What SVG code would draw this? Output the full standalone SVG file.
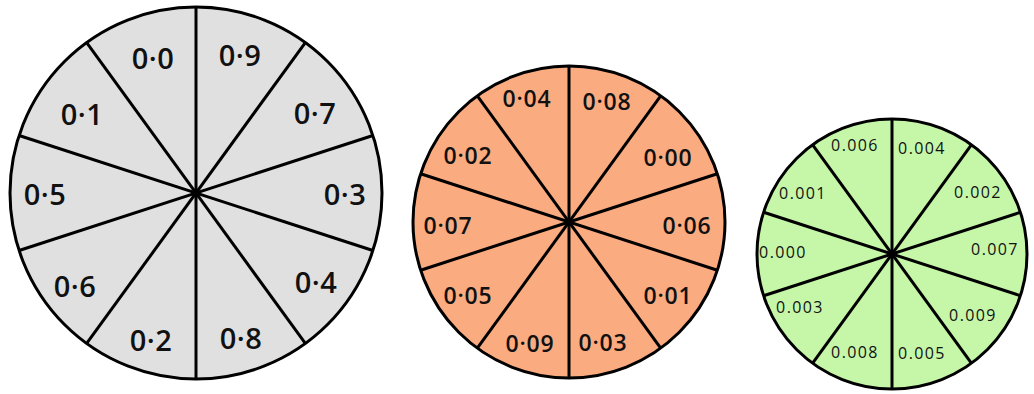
<svg xmlns="http://www.w3.org/2000/svg" width="1034" height="394" viewBox="0 0 1034 394">
<style>
.rim{stroke:#000;stroke-width:3}
.div{stroke:#000;stroke-width:3;stroke-linecap:butt}
text{font-family:"Open Sans","Liberation Sans",sans-serif;fill:#111;text-anchor:middle;dominant-baseline:central}
.t1{font-size:29px;font-weight:600;letter-spacing:0.5px}
.t2{font-size:23px;font-weight:600;letter-spacing:0.8px}
.t3{font-size:16px;font-weight:400;letter-spacing:1.4px}
</style>
<rect width="1034" height="394" fill="#fff"/>
<g id="spinner1">
<circle class="rim" cx="196" cy="193" r="186" fill="#e0e0e0"/>
<g transform="translate(196,193)">
<line class="div" x1="0" y1="-186" x2="0" y2="186"/>
<line class="div" x1="0" y1="-186" x2="0" y2="186" transform="rotate(36)"/>
<line class="div" x1="0" y1="-186" x2="0" y2="186" transform="rotate(72)"/>
<line class="div" x1="0" y1="-186" x2="0" y2="186" transform="rotate(108)"/>
<line class="div" x1="0" y1="-186" x2="0" y2="186" transform="rotate(144)"/>
<circle r="4" fill="#000"/>
</g>
<text class="t1" x="153" y="57">0·0</text>
<text class="t1" x="240" y="54">0·9</text>
<text class="t1" x="315" y="112">0·7</text>
<text class="t1" x="345" y="193">0·3</text>
<text class="t1" x="316" y="281">0·4</text>
<text class="t1" x="241" y="337">0·8</text>
<text class="t1" x="151" y="339">0·2</text>
<text class="t1" x="75" y="285">0·6</text>
<text class="t1" x="45" y="193">0·5</text>
<text class="t1" x="82" y="113">0·1</text>
</g>
<g id="spinner2">
<circle class="rim" cx="569" cy="222" r="156" fill="#fbab80"/>
<g transform="translate(569,222)">
<line class="div" x1="0" y1="-156" x2="0" y2="156"/>
<line class="div" x1="0" y1="-156" x2="0" y2="156" transform="rotate(36)"/>
<line class="div" x1="0" y1="-156" x2="0" y2="156" transform="rotate(72)"/>
<line class="div" x1="0" y1="-156" x2="0" y2="156" transform="rotate(108)"/>
<line class="div" x1="0" y1="-156" x2="0" y2="156" transform="rotate(144)"/>
<circle r="3.5" fill="#000"/>
</g>
<text class="t2" x="527" y="98">0·04</text>
<text class="t2" x="607" y="101">0·08</text>
<text class="t2" x="668" y="157">0·00</text>
<text class="t2" x="687" y="225">0·06</text>
<text class="t2" x="668" y="295">0·01</text>
<text class="t2" x="603" y="342">0·03</text>
<text class="t2" x="530" y="343">0·09</text>
<text class="t2" x="468" y="295">0·05</text>
<text class="t2" x="448" y="225">0·07</text>
<text class="t2" x="468" y="155">0·02</text>
</g>
<g id="spinner3">
<circle class="rim" cx="892" cy="254" r="135" fill="#c6f7a9"/>
<g transform="translate(892,254)">
<line class="div" x1="0" y1="-135" x2="0" y2="135"/>
<line class="div" x1="0" y1="-135" x2="0" y2="135" transform="rotate(36)"/>
<line class="div" x1="0" y1="-135" x2="0" y2="135" transform="rotate(72)"/>
<line class="div" x1="0" y1="-135" x2="0" y2="135" transform="rotate(108)"/>
<line class="div" x1="0" y1="-135" x2="0" y2="135" transform="rotate(144)"/>
<circle r="3" fill="#000"/>
</g>
<text class="t3" x="855" y="145">0.006</text>
<text class="t3" x="922" y="148">0.004</text>
<text class="t3" x="978" y="192">0.002</text>
<text class="t3" x="995" y="249">0.007</text>
<text class="t3" x="973" y="315">0.009</text>
<text class="t3" x="922" y="353">0.005</text>
<text class="t3" x="855" y="352">0.008</text>
<text class="t3" x="800" y="307">0.003</text>
<text class="t3" x="783" y="252">0.000</text>
<text class="t3" x="803" y="193">0.001</text>
</g>
</svg>
